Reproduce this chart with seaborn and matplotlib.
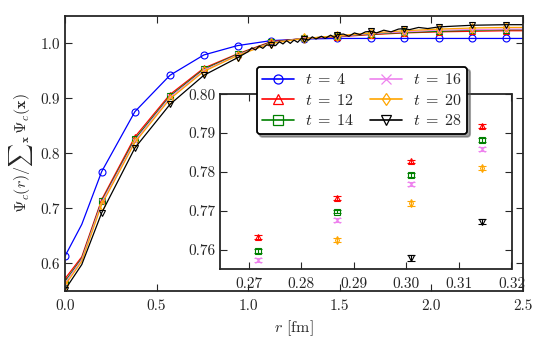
import matplotlib
matplotlib.use("Agg")
import matplotlib.pyplot as plt
import seaborn as sns
import numpy as np
from matplotlib.lines import Line2D

# ---------------- data ----------------
r = [0.0, 0.092, 0.2007, 0.382, 0.573, 0.758, 0.942, 1.124, 1.305,
     1.487, 1.673, 1.851, 2.04, 2.224, 2.409, 2.5]
mark_idx = [0, 2, 3, 4, 5, 6, 7, 8, 9, 10, 11, 12, 13, 14]

t_labels = [4, 12, 14, 16, 20, 28]
colors = ["#0000ff", "#ff0000", "#008000", "violet", "orange", "black"]
markers = ["o", "^", "s", "x", "d", "v"]

psi_t4 = [0.613, 0.671, 0.767, 0.876, 0.942, 0.979, 0.996, 1.005, 1.008,
          1.009, 1.009, 1.009, 1.009, 1.009, 1.009, 1.009]
psi_t12 = [0.572, 0.612, 0.716, 0.830, 0.907, 0.955, 0.981, 1.003, 1.009,
           1.012, 1.016, 1.019, 1.021, 1.022, 1.023, 1.023]
psi_t14 = [0.567, 0.609, 0.713, 0.826, 0.904, 0.953, 0.980, 1.002, 1.009,
           1.013, 1.017, 1.020, 1.022, 1.024, 1.025, 1.025]
psi_t16 = [0.564, 0.607, 0.711, 0.823, 0.902, 0.951, 0.979, 1.001, 1.009,
           1.013, 1.018, 1.021, 1.024, 1.025, 1.026, 1.026]
psi_t20 = [0.560, 0.604, 0.707, 0.820, 0.899, 0.949, 0.978, 1.000, 1.009,
           1.014, 1.019, 1.023, 1.026, 1.028, 1.029, 1.029]
psi_t28 = [0.552, 0.598, 0.692, 0.810, 0.889, 0.942, 0.974, 0.997, 1.008,
           1.016, 1.022, 1.027, 1.030, 1.033, 1.034, 1.034]

# extra (noisy) lattice points of the t=28 curve
r_t28_extra = [1.00, 1.02, 1.04, 1.06, 1.08, 1.10, 1.15, 1.17, 1.19, 1.21,
               1.23, 1.25, 1.27, 1.29, 1.33, 1.35, 1.37, 1.40, 1.42, 1.45,
               1.47, 1.52, 1.55, 1.58, 1.61, 1.64, 1.70, 1.74, 1.78, 1.82,
               1.88, 1.93, 1.98]
psi_t28_extra = [0.985, 0.992, 0.988, 0.995, 0.991, 0.997, 0.996, 1.003,
                 0.999, 1.005, 1.000, 1.006, 1.002, 1.009, 1.006, 1.012,
                 1.008, 1.013, 1.009, 1.015, 1.011, 1.017, 1.013, 1.019,
                 1.016, 1.021, 1.019, 1.024, 1.021, 1.026, 1.025, 1.029,
                 1.027]

series = [psi_t4, psi_t12, psi_t14, psi_t16, psi_t20, psi_t28]

# inset data
r_in = [0.2717, 0.2868, 0.3008, 0.3144]
in_t12 = [0.7633, 0.7734, 0.7827, 0.7918]
in_t14 = [0.7596, 0.7698, 0.7791, 0.7883]
in_t16 = [0.7574, 0.7676, 0.7768, 0.7860]
in_t20 = [0.7520, 0.7625, 0.7719, 0.7810]
in_t28 = [0.7400, 0.7500, 0.7578, 0.7672]
err_t12 = [0.0005, 0.0005, 0.0005, 0.0005]
err_t14 = [0.0005, 0.0005, 0.0005, 0.0005]
err_t16 = [0.0005, 0.0005, 0.0005, 0.0005]
err_t20 = [0.0006, 0.0006, 0.0006, 0.0006]
err_t28 = [0.0007, 0.0007, 0.0007, 0.0007]
inset_series = [in_t12, in_t14, in_t16, in_t20, in_t28]
inset_err = [err_t12, err_t14, err_t16, err_t20, err_t28]

# ---------------- style ----------------
sns.set_style("ticks")
plt.rcParams.update({
    "font.family": ["cmr10", "DejaVu Serif"],
    "mathtext.fontset": "cm",
    "axes.formatter.use_mathtext": True,
    "font.size": 11,
    "axes.linewidth": 1.3,
    "xtick.direction": "in",
    "ytick.direction": "in",
    "xtick.top": True,
    "ytick.right": True,
    "xtick.major.size": 5,
    "ytick.major.size": 5,
    "xtick.major.width": 0.8,
    "ytick.major.width": 0.8,
    "xtick.labelsize": 11,
    "ytick.labelsize": 11,
})

fig = plt.figure(figsize=(5.5, 3.5), dpi=100)
ax = fig.add_axes([0.118, 0.1686, 0.833, 0.786])

handles = []
for vals, c, m, t in zip(series, colors, markers, t_labels):
    if t == 28:
        xs = list(r) + r_t28_extra
        ys = list(vals) + psi_t28_extra
        order = np.argsort(xs)
        xs = [xs[i] for i in order]
        ys = [ys[i] for i in order]
    else:
        xs, ys = r, vals
    sns.lineplot(x=xs, y=ys, color=c, lw=0.9, ax=ax, sort=False,
                 estimator=None)
    ax.plot([r[i] for i in mark_idx], [vals[i] for i in mark_idx],
            linestyle="none", marker=m, ms=5, mfc="none", mec=c, mew=0.8)
    handles.append(Line2D([0], [0], color=c, lw=1.2, marker=m, ms=6.5,
                          mfc="none", mec=c, mew=0.9,
                          label=rf"$t\;=\;{t}$"))

ax.set_xlim(0, 2.5)
ax.set_ylim(0.55, 1.05)
ax.set_xticks([0.0, 0.5, 1.0, 1.5, 2.0, 2.5])
ax.set_yticks([0.6, 0.7, 0.8, 0.9, 1.0])
ax.set_xticklabels([f"{v:.1f}" for v in [0.0, 0.5, 1.0, 1.5, 2.0, 2.5]])
ax.set_yticklabels([f"{v:.1f}" for v in [0.6, 0.7, 0.8, 0.9, 1.0]])
ax.set_xlabel(r"$r$ [fm]", fontsize=11.5)
ax.set_ylabel(r"$\Psi_c(r)/\sum{}_{\mathbf{x}}\,\Psi_c(\mathbf{x})$", fontsize=11.5)
ax.tick_params(axis="x", pad=6)

# ---------------- inset ----------------
axi = fig.add_axes([0.400, 0.2314, 0.530, 0.4992])
for vals, err, c, m in zip(inset_series, inset_err, colors[1:], markers[1:]):
    axi.errorbar(r_in, vals, yerr=err, fmt=m, color=c, ms=4, mfc="none",
                 mec=c, mew=0.8, elinewidth=0.8, capsize=3, capthick=0.8)
axi.set_xlim(0.2645, 0.32)
axi.set_ylim(0.755, 0.80)
xt = [0.27, 0.28, 0.29, 0.30, 0.31, 0.32]
yt = [0.76, 0.77, 0.78, 0.79, 0.80]
axi.set_xticks(xt)
axi.set_yticks(yt)
axi.set_xticklabels([f"{v:.2f}" for v in xt])
axi.set_yticklabels([f"{v:.2f}" for v in yt])
axi.tick_params(axis="x", pad=6)

# ---------------- legend ----------------
leg = fig.legend(handles=handles, ncol=2, loc="upper left",
                 bbox_to_anchor=(0.4667, 0.8094), borderaxespad=0.0,
                 frameon=True, fancybox=True,
                 shadow=True, fontsize=11.5, handlelength=2.0,
                 columnspacing=0.95, labelspacing=0.35, borderpad=0.35,
                 handletextpad=0.7)
leg.get_frame().set_edgecolor("black")
leg.get_frame().set_linewidth(1.3)
leg.get_frame().set_alpha(1.0)

fig.savefig("out.png", dpi=100)
